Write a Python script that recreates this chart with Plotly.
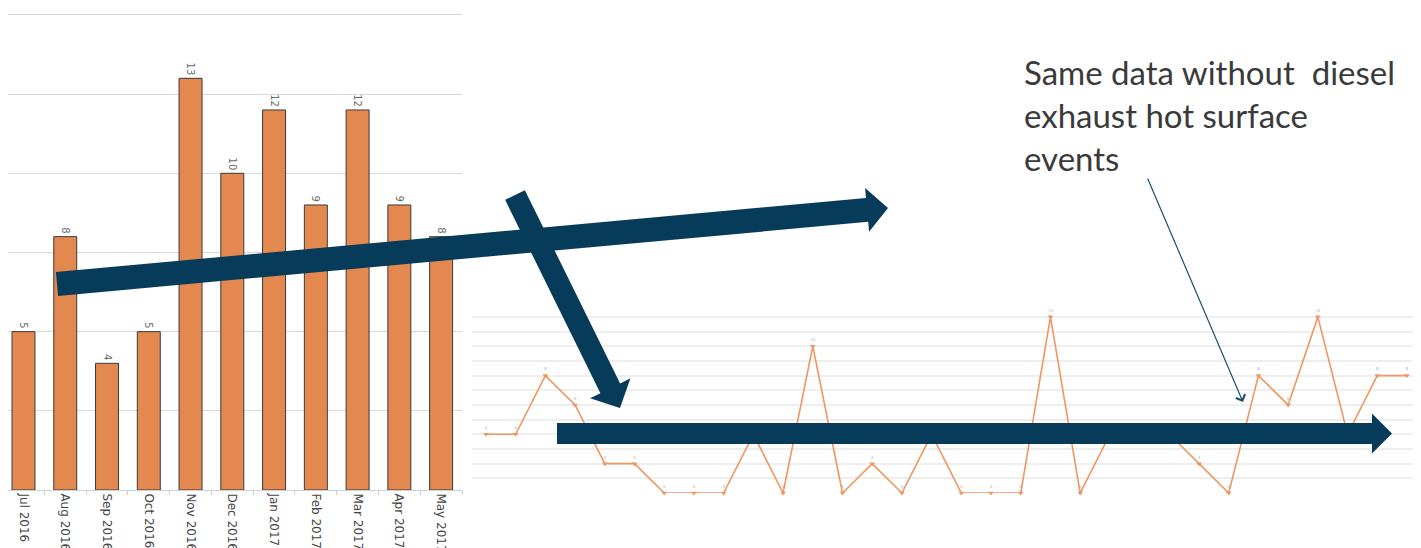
import plotly.graph_objects as go

W, H = 1421, 548
OFF = 8  # page body margin

# ---------------- data ----------------
months = ["Jul 2016", "Aug 2016", "Sep 2016", "Oct 2016", "Nov 2016", "Dec 2016",
          "Jan 2017", "Feb 2017", "Mar 2017", "Apr 2017", "May 2017"]
events = [5, 8, 4, 5, 13, 10, 12, 9, 12, 9, 8]

weeks = list(range(32))
events_no_diesel = [4, 4, 8, 6, 2, 2, 0, 0, 0, 4, 0, 10, 0, 2, 0, 4,
                    0, 0, 0, 12, 0, 4, 4, 4, 2, 0, 8, 6, 12, 4, 8, 8]

note_text = "Same data without\u00a0 diesel<br>exhaust hot surface<br>events"

ARROW_COLOR = "#063B59"
BAR_COLOR = "#E3884F"
LINE_COLOR = "#EF9762"


def px(x):
    return min(max((x - OFF) / W, 0), 1)


def py(y):
    return min(max(1 - (y - OFF) / H, 0), 1)


def arrow_path(x0, y0, x1, y1, w, hw, hl):
    import math
    dx, dy = x1 - x0, y1 - y0
    L = math.hypot(dx, dy)
    ux, uy = dx / L, dy / L
    nx, ny = -uy, ux
    bx, by = x1 - ux * hl, y1 - uy * hl
    pts = [
        (x0 + nx * w / 2, y0 + ny * w / 2),
        (bx + nx * w / 2, by + ny * w / 2),
        (bx + nx * hw / 2, by + ny * hw / 2),
        (x1, y1),
        (bx - nx * hw / 2, by - ny * hw / 2),
        (bx - nx * w / 2, by - ny * w / 2),
        (x0 - nx * w / 2, y0 - ny * w / 2),
    ]
    return "M " + " L ".join(f"{(a - OFF) / W:.5f},{1 - (b - OFF) / H:.5f}" for a, b in pts) + " Z"


fig = go.Figure()

fig.add_trace(go.Bar(
    x=months, y=events, xaxis="x", yaxis="y",
    marker=dict(color=BAR_COLOR, line=dict(color="#3a3a3a", width=1)),
    text=[str(v) for v in events], textposition="outside", textangle=90,
    textfont=dict(size=10, color="#6b6b6b", family="DejaVu Sans"),
    cliponaxis=False, width=0.55, showlegend=False,
))

fig.add_trace(go.Scatter(
    x=weeks, y=events_no_diesel, xaxis="x2", yaxis="y2",
    mode="lines+markers+text",
    line=dict(color=LINE_COLOR, width=1.6),
    marker=dict(color=LINE_COLOR, size=5, symbol="triangle-down"),
    text=[str(v) for v in events_no_diesel], textposition="top center",
    textfont=dict(size=4, color="#8a9aaa"),
    cliponaxis=False, showlegend=False,
))

shapes = [
    dict(type="path", xref="paper", yref="paper", layer="above",
         path=arrow_path(515, 195, 620, 408, 22, 45, 22),
         fillcolor=ARROW_COLOR, line=dict(width=0)),
    dict(type="path", xref="paper", yref="paper", layer="above",
         path=arrow_path(57, 284, 888, 208, 24, 44, 21),
         fillcolor=ARROW_COLOR, line=dict(width=0)),
    dict(type="path", xref="paper", yref="paper", layer="above",
         path=arrow_path(557, 433.5, 1392, 433.5, 21, 40, 20),
         fillcolor=ARROW_COLOR, line=dict(width=0)),
]

annotations = [
    dict(xref="paper", yref="paper", x=px(1022), y=py(50), xanchor="left", yanchor="top",
         text=note_text, showarrow=False, align="left",
         font=dict(family="Lato", size=33, color="#3a3a3a")),
    dict(xref="paper", yref="paper", x=px(1243), y=py(402), ax=1147 - 1243, ay=177 - 402,
         text="", showarrow=True, arrowhead=4, arrowsize=1.6, arrowwidth=1.2,
         arrowcolor="#1E4E6E"),
]

fig.update_layout(
    width=W, height=H,
    margin=dict(l=0, r=0, t=0, b=0),
    paper_bgcolor="white", plot_bgcolor="white",
    bargap=0.45,
    xaxis=dict(domain=[px(8), px(462)], range=[-0.371, 10.5], showgrid=False, tickangle=90,
               tickfont=dict(size=12, color="#444444", family="DejaVu Sans"),
               showline=True, linecolor="#c9d1d9", ticks="outside", ticklen=4,
               tickcolor="#c9d1d9", tickson="boundaries", automargin=False),
    yaxis=dict(domain=[py(490), py(8)], range=[0, 15.22], dtick=2.5,
               showticklabels=False, gridcolor="#d9d9d9", gridwidth=1.3,
               zeroline=False, automargin=False),
    xaxis2=dict(domain=[px(472), px(1415)], range=[-0.47, 31.27], anchor="y2",
                showgrid=False, showticklabels=False, zeroline=False, automargin=False),
    yaxis2=dict(domain=[py(493), py(311)], range=[0, 12.4], dtick=1, anchor="x2",
                showticklabels=False, gridcolor="#eeeeee", gridwidth=1.5,
                zeroline=False, automargin=False),
    shapes=shapes,
    annotations=annotations,
)

fig.write_html("out.html")
